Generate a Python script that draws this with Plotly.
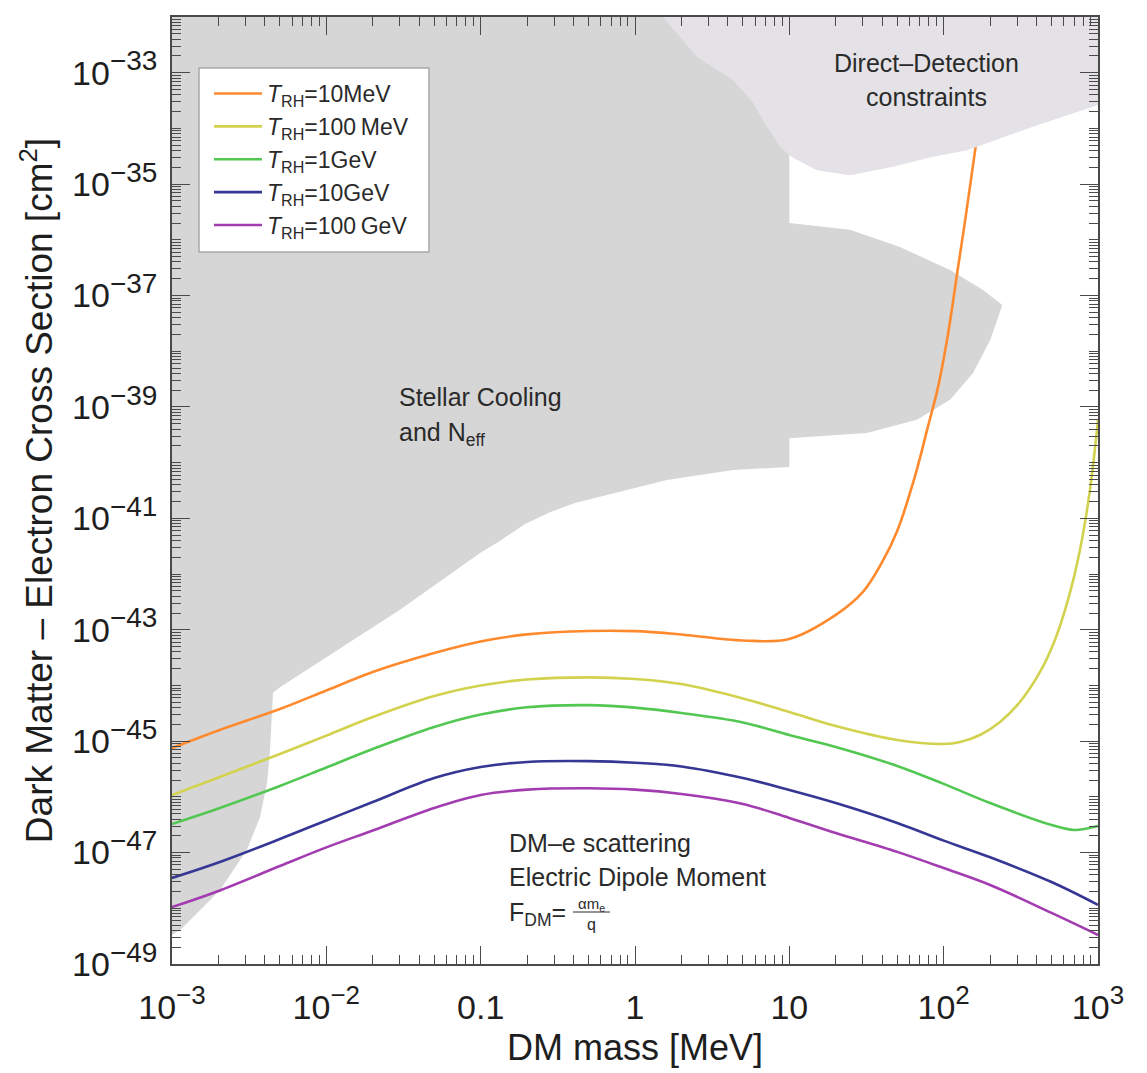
import plotly.graph_objects as go

# ---------------- data ----------------
mass_grid = [1e-3, 2e-3, 5e-3, 1e-2, 2e-2, 5e-2, 0.1, 0.2, 0.5, 1, 2, 5, 10, 20, 50, 100, 200, 500, 1000]

# T_RH = 10 MeV
mass_10mev = [1e-3, 2e-3, 5e-3, 1e-2, 2e-2, 5e-2, 0.1, 0.2, 0.5, 1, 2, 5, 10, 20, 30, 40, 50,
              65, 79, 92, 107, 124, 137, 160, 185]
sigma_10mev = [7.55e-46, 1.56e-45, 3.78e-45, 8.13e-45, 1.75e-44, 3.83e-44, 6.17e-44, 8.26e-44,
               9.51e-44, 9.44e-44, 8.24e-44, 6.43e-44, 6.84e-44, 1.85e-43, 4.79e-43, 1.65e-42,
               5.94e-42, 5.53e-41, 4.38e-40, 2.29e-39, 2.13e-38, 3.26e-37, 2.01e-36, 4.11e-35,
               7.41e-34]

# T_RH = 100 MeV
mass_100mev = [1e-3, 2e-3, 5e-3, 1e-2, 2e-2, 5e-2, 0.1, 0.2, 0.5, 1, 2, 5, 10, 20, 50, 100,
               128, 172, 232, 312, 421, 526, 639, 764, 887, 1000]
sigma_100mev = [1.08e-46, 2.23e-46, 5.89e-46, 1.26e-45, 2.72e-45, 6.47e-45, 1.00e-44, 1.28e-44,
                1.40e-44, 1.31e-44, 1.06e-44, 5.85e-45, 3.34e-45, 1.87e-45, 1.05e-45, 8.91e-46,
                9.68e-46, 1.29e-45, 2.21e-45, 5.06e-45, 1.75e-44, 6.56e-44, 3.43e-43, 2.71e-42,
                3.24e-41, 5.85e-40]

# T_RH = 1 GeV
mass_1gev = [1e-3, 2e-3, 5e-3, 1e-2, 2e-2, 5e-2, 0.1, 0.2, 0.5, 1, 2, 5, 10, 20, 50, 100,
             200, 500, 700, 1000]
sigma_1gev = [3.26e-47, 6.19e-47, 1.57e-46, 3.37e-46, 7.24e-46, 1.80e-45, 3.01e-45, 4.06e-45,
              4.43e-45, 4.01e-45, 3.21e-45, 2.17e-45, 1.29e-45, 7.87e-46, 3.59e-46, 1.71e-46,
              7.76e-47, 3.13e-47, 2.55e-47, 3.01e-47]

# T_RH = 10 GeV
sigma_10gev = [3.50e-48, 6.64e-48, 1.75e-47, 3.77e-47, 8.09e-47, 2.18e-46, 3.44e-46, 4.24e-46,
               4.38e-46, 4.11e-46, 3.52e-46, 2.18e-46, 1.33e-46, 7.76e-47, 3.40e-47, 1.64e-47,
               8.24e-48, 2.96e-48, 1.15e-48]

# T_RH = 100 GeV
sigma_100gev = [1.05e-48, 2.05e-48, 5.74e-48, 1.24e-47, 2.49e-47, 6.32e-47, 1.08e-46, 1.35e-46,
                1.43e-46, 1.35e-46, 1.13e-46, 7.46e-47, 4.18e-47, 2.25e-47, 1.03e-47, 5.28e-48,
                2.62e-48, 8.26e-49, 3.32e-49]

# Excluded region: stellar cooling and N_eff (outline, clockwise)
stellar_mass = [1e-3, 10, 10, 24.7, 52.1, 110, 180, 240, 200, 155, 110, 67.1, 31.8, 10, 10,
                4.32, 1.61, 0.593, 0.408, 0.281, 0.194, 0.133, 0.0991, 0.030, 0.0123, 5.01e-3,
                4.51e-3, 4.32e-3, 4.13e-3, 3.72e-3, 3.06e-3, 2.05e-3, 1.13e-3, 1e-3]
stellar_sigma = [1e-31, 1e-31, 2.0e-36, 1.51e-36, 7.41e-37, 2.88e-37, 1.26e-37, 6.76e-38,
                 1.58e-38, 4.07e-39, 1.35e-39, 5.89e-40, 3.39e-40, 2.75e-40, 8.32e-41, 7.41e-41,
                 4.90e-41, 2.40e-41, 1.89e-41, 1.29e-41, 7.93e-42, 3.93e-42, 2.40e-42, 2.29e-43,
                 4.68e-44, 9.33e-45, 7.41e-45, 6.92e-46, 1.78e-46, 4.37e-47, 1.12e-47, 2.14e-48,
                 4.07e-49, 3.31e-49]

# Excluded region: direct-detection constraints
dd_mass = [1.52, 2.52, 4.32, 5.82, 7.16, 8.71, 10.3, 15.1, 24.7, 47.0, 85.3, 142, 379, 1000, 1000]
dd_sigma = [1e-32, 1.91e-33, 7.41e-34, 2.88e-34, 1.07e-34, 4.68e-35, 3.09e-35, 1.78e-35,
            1.45e-35, 2.04e-35, 3.09e-35, 4.07e-35, 1.07e-34, 2.63e-34, 1e-32]

curve_labels = ["<i>T</i><sub>RH</sub>=10MeV", "<i>T</i><sub>RH</sub>=100\u2009MeV",
                "<i>T</i><sub>RH</sub>=1GeV", "<i>T</i><sub>RH</sub>=10GeV",
                "<i>T</i><sub>RH</sub>=100\u2009GeV"]
curve_colors = ["#FF8A2E", "#D2D24E", "#52C852", "#363694", "#A23CB0"]

x_tickvals = [1e-3, 1e-2, 0.1, 1, 10, 100, 1000]
x_ticktext = ["10<sup><span style='font-size:26px'>\u22123</span></sup>",
              "10<sup><span style='font-size:26px'>\u22122</span></sup>",
              "0.1", "1", "10",
              "10<sup><span style='font-size:26px'>2</span></sup>",
              "10<sup><span style='font-size:26px'>3</span></sup>"]
y_label_exponents = [-49, -47, -45, -43, -41, -39, -37, -35, -33]
y_plain_exponents = [-48, -46, -44, -42, -40, -38, -36, -34, -32]

# ---------------- figure ----------------
FONT = "Liberation Sans, Arial, Helvetica, sans-serif"
AXC = "#4a4a4a"
TXTC = "#1e1e1e"

fig = go.Figure()

fig.add_trace(go.Scatter(x=stellar_mass, y=stellar_sigma, mode="lines", fill="toself",
                         fillcolor="#D6D6D6", line=dict(width=0, color="#D6D6D6"),
                         showlegend=False, hoverinfo="skip"))

series = [
    (mass_10mev, sigma_10mev),
    (mass_100mev, sigma_100mev),
    (mass_1gev, sigma_1gev),
    (mass_grid, sigma_10gev),
    (mass_grid, sigma_100gev),
]
for (xs, ys), name, col in zip(series, curve_labels, curve_colors):
    fig.add_trace(go.Scatter(x=xs, y=ys, mode="lines", name=name,
                             line=dict(color=col, width=2.6, shape="spline", smoothing=1.0)))

fig.add_trace(go.Scatter(x=dd_mass, y=dd_sigma, mode="lines", fill="toself",
                         fillcolor="#E4E2E6", line=dict(width=0, color="#E4E2E6"),
                         showlegend=False, hoverinfo="skip"))

tick_common = dict(ticks="inside", ticklen=18, tickwidth=1.3, tickcolor=AXC,
                   showline=True, linecolor=AXC, linewidth=1.6, mirror="allticks",
                   showgrid=False, zeroline=False)
minor_common = dict(ticks="inside", ticklen=9, tickwidth=1.1, tickcolor=AXC,
                    dtick="D1", showgrid=False)

fig.update_layout(
    xaxis=dict(type="log", range=[-3, 3], tickmode="array", tickvals=x_tickvals,
               ticktext=x_ticktext, ticklabelstandoff=12,
               tickfont=dict(family=FONT, size=34, color=TXTC),
               minor=minor_common,
               title=dict(text="DM mass [MeV]", font=dict(family=FONT, size=36, color=TXTC),
                          standoff=10),
               **tick_common),
    yaxis=dict(type="log", range=[-49, -32], tickmode="array",
               tickvals=[10.0 ** e for e in y_label_exponents],
               ticktext=["10<sup><span style='font-size:28px'>\u2212%d</span></sup>" % -e
                         for e in y_label_exponents],
               ticklabelstandoff=6,
               tickfont=dict(family=FONT, size=34, color=TXTC),
               minor=minor_common,
               title=dict(text="Dark Matter \u2013 Electron Cross Section [cm<sup>2</sup>]",
                          font=dict(family=FONT, size=37, color=TXTC), standoff=8),
               **tick_common),
    # unlabelled decade ticks between the labelled ones
    yaxis2=dict(type="log", range=[-49, -32], overlaying="y", anchor="x", side="left",
                tickmode="array", tickvals=[10.0 ** e for e in y_plain_exponents],
                showticklabels=False, **tick_common),
)


def note(text, px, py, xanchor="left", size=25):
    fig.add_annotation(text=text, xref="paper", yref="paper",
                       x=(px - 172) / 926, y=(964 - py) / 947,
                       xanchor=xanchor, yanchor="middle", showarrow=False,
                       font=dict(family=FONT, size=size, color="#2a2a2a"))


note("Stellar Cooling", 397, 397)
note("and N<sub>eff</sub>", 397, 434)
note("Direct\u2013Detection", 926, 63, xanchor="center")
note("constraints", 926, 97, xanchor="center")
note("DM\u2013e scattering", 507, 843)
note("Electric Dipole Moment", 507, 877)
note("F<sub>DM</sub>=", 507, 914)
note("\u03b1m<sub>e</sub>", 591, 904, xanchor="center", size=15)
note("q", 591, 924, xanchor="center", size=16)
fig.add_shape(type="line", xref="paper", yref="paper",
              x0=(573 - 172) / 926, x1=(610 - 172) / 926,
              y0=(964 - 912) / 947, y1=(964 - 912) / 947,
              line=dict(color="#2a2a2a", width=1))

# legend frame
fig.add_shape(type="rect", xref="paper", yref="paper", layer="above",
              x0=(199 - 172) / 926, x1=(429 - 172) / 926,
              y0=(964 - 252) / 947, y1=(964 - 68) / 947,
              fillcolor="white", line=dict(color="#a8a8a8", width=1.5))

fig.update_layout(
    width=1147, height=1073,
    margin=dict(l=172, r=49, t=17, b=109),
    paper_bgcolor="white", plot_bgcolor="white",
    font=dict(family=FONT, color=TXTC),
    legend=dict(x=(209 - 172) / 926, y=(964 - 72) / 947, xanchor="left", yanchor="top",
                bgcolor="rgba(0,0,0,0)", borderwidth=0,
                font=dict(family=FONT, size=23, color="#2a2a2a"),
                tracegroupgap=0, itemwidth=48),
)

fig.write_html("out.html")
